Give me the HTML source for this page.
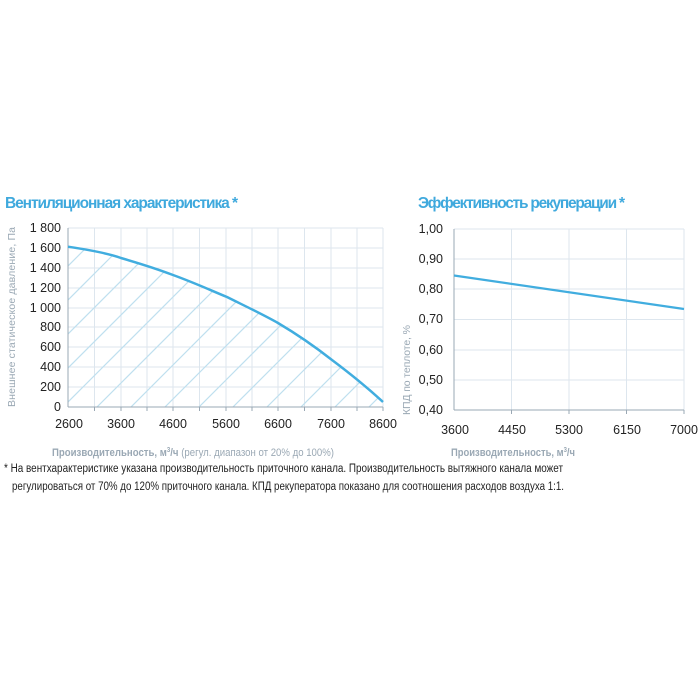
<!DOCTYPE html>
<html><head><meta charset="utf-8"><style>html,body{margin:0;padding:0;background:#fff;width:700px;height:700px;overflow:hidden}svg{display:block}</style></head>
<body>
<svg width="700" height="700" xmlns="http://www.w3.org/2000/svg" font-family="Liberation Sans, sans-serif">
<defs>
<clipPath id="under"><path d="M68,246.7 C90,250 110,254 121,258 C145,265 160,270 173,275 C195,283 210,290 227,297 C245,306 262,314 278,323 C300,336 318,349 332,360 C352,375 370,390 383,402 L383,407 L68,407 Z"/></clipPath>
</defs>
<text x="5" y="208" font-size="15.5" font-weight="bold" fill="#3fa9dd" textLength="233">Вентиляционная характеристика *</text>
<text x="418" y="208" font-size="15.5" font-weight="bold" fill="#3fa9dd" textLength="207">Эффективность рекуперации *</text>
<g stroke="#dde6ee" stroke-width="1">
<line x1="68" y1="228" x2="383" y2="228"/><line x1="68" y1="248" x2="383" y2="248"/><line x1="68" y1="268" x2="383" y2="268"/><line x1="68" y1="288" x2="383" y2="288"/><line x1="68" y1="308" x2="383" y2="308"/><line x1="68" y1="327" x2="383" y2="327"/><line x1="68" y1="347" x2="383" y2="347"/><line x1="68" y1="367" x2="383" y2="367"/><line x1="68" y1="387" x2="383" y2="387"/>
<line x1="94.5" y1="228" x2="94.5" y2="407"/><line x1="121" y1="228" x2="121" y2="407"/><line x1="147" y1="228" x2="147" y2="407"/><line x1="173" y1="228" x2="173" y2="407"/><line x1="199.5" y1="228" x2="199.5" y2="407"/><line x1="226" y1="228" x2="226" y2="407"/><line x1="252" y1="228" x2="252" y2="407"/><line x1="278" y1="228" x2="278" y2="407"/><line x1="304.5" y1="228" x2="304.5" y2="407"/><line x1="331" y1="228" x2="331" y2="407"/><line x1="357" y1="228" x2="357" y2="407"/><line x1="383" y1="228" x2="383" y2="407"/>
</g>
<g clip-path="url(#under)" stroke="#bfe0ef" stroke-width="1.2">
<line x1="0" y1="402" x2="500" y2="-98"/>
<line x1="0" y1="436" x2="500" y2="-64"/><line x1="0" y1="470" x2="500" y2="-30"/><line x1="0" y1="504" x2="500" y2="4"/><line x1="0" y1="538" x2="500" y2="38"/><line x1="0" y1="572" x2="500" y2="72"/><line x1="0" y1="606" x2="500" y2="106"/><line x1="0" y1="640" x2="500" y2="140"/><line x1="0" y1="674" x2="500" y2="174"/><line x1="0" y1="708" x2="500" y2="208"/><line x1="0" y1="742" x2="500" y2="242"/><line x1="0" y1="776" x2="500" y2="276"/><line x1="0" y1="810" x2="500" y2="310"/><line x1="0" y1="844" x2="500" y2="344"/><line x1="0" y1="878" x2="500" y2="378"/><line x1="0" y1="912" x2="500" y2="412"/><line x1="0" y1="368" x2="500" y2="-132"/><line x1="0" y1="334" x2="500" y2="-166"/><line x1="0" y1="300" x2="500" y2="-200"/>
</g>
<g stroke="#9aa8b4" stroke-width="1">
<line x1="68" y1="228" x2="68" y2="407"/><line x1="68" y1="407" x2="383" y2="407"/>
<line x1="94.5" y1="407" x2="94.5" y2="411"/><line x1="121" y1="407" x2="121" y2="411"/><line x1="147" y1="407" x2="147" y2="411"/><line x1="173" y1="407" x2="173" y2="411"/><line x1="199.5" y1="407" x2="199.5" y2="411"/><line x1="226" y1="407" x2="226" y2="411"/><line x1="252" y1="407" x2="252" y2="411"/><line x1="278" y1="407" x2="278" y2="411"/><line x1="304.5" y1="407" x2="304.5" y2="411"/><line x1="331" y1="407" x2="331" y2="411"/><line x1="357" y1="407" x2="357" y2="411"/><line x1="383" y1="407" x2="383" y2="411"/>
</g>
<path d="M68,246.7 C90,250 110,254 121,258 C145,265 160,270 173,275 C195,283 210,290 227,297 C245,306 262,314 278,323 C300,336 318,349 332,360 C352,375 370,390 383,402" fill="none" stroke="#41addf" stroke-width="2.5"/>
<g font-size="12.5" fill="#222" text-anchor="end">
<text x="61" y="232">1 800</text><text x="61" y="252">1 600</text><text x="61" y="272">1 400</text><text x="61" y="292">1 200</text><text x="61" y="312">1 000</text><text x="61" y="331">800</text><text x="61" y="351">600</text><text x="61" y="371">400</text><text x="61" y="391">200</text><text x="61" y="411">0</text>
</g>
<g font-size="12.5" fill="#222" text-anchor="middle">
<text x="69" y="428">2600</text><text x="121" y="428">3600</text><text x="173" y="428">4600</text><text x="226" y="428">5600</text><text x="278" y="428">6600</text><text x="331" y="428">7600</text><text x="383" y="428">8600</text>
</g>
<text transform="translate(15,317) rotate(-90)" font-size="10.5" fill="#9aa8b4" text-anchor="middle" textLength="180">Внешнее статическое давление, Па</text>
<g stroke="#dde6ee" stroke-width="1">
<line x1="454" y1="229" x2="684" y2="229"/><line x1="454" y1="259" x2="684" y2="259"/><line x1="454" y1="289" x2="684" y2="289"/><line x1="454" y1="319.5" x2="684" y2="319.5"/><line x1="454" y1="350" x2="684" y2="350"/><line x1="454" y1="380" x2="684" y2="380"/>
<line x1="511.5" y1="229" x2="511.5" y2="410"/><line x1="569" y1="229" x2="569" y2="410"/><line x1="626.5" y1="229" x2="626.5" y2="410"/><line x1="684" y1="229" x2="684" y2="410"/>
</g>
<g stroke="#9aa8b4" stroke-width="1">
<line x1="454" y1="229" x2="454" y2="410"/><line x1="454" y1="410" x2="684" y2="410"/>
<line x1="511.5" y1="410" x2="511.5" y2="414"/><line x1="569" y1="410" x2="569" y2="414"/><line x1="626.5" y1="410" x2="626.5" y2="414"/><line x1="684" y1="410" x2="684" y2="414"/>
</g>
<line x1="454" y1="275.5" x2="684" y2="309" stroke="#41addf" stroke-width="2.2"/>
<g font-size="12.5" fill="#222" text-anchor="end">
<text x="443" y="233">1,00</text><text x="443" y="263">0,90</text><text x="443" y="293">0,80</text><text x="443" y="323">0,70</text><text x="443" y="354">0,60</text><text x="443" y="384">0,50</text><text x="443" y="414">0,40</text>
</g>
<g font-size="12.5" fill="#222" text-anchor="middle">
<text x="455" y="434">3600</text><text x="512" y="434">4450</text><text x="569" y="434">5300</text><text x="627" y="434">6150</text><text x="684" y="434">7000</text>
</g>
<text transform="translate(410,370) rotate(-90)" font-size="10.5" fill="#9aa8b4" text-anchor="middle" textLength="90">КПД по теплоте, %</text>
<text x="52" y="456" font-size="11" fill="#9aa8b4" textLength="282" lengthAdjust="spacingAndGlyphs"><tspan font-weight="bold">Производительность, м</tspan><tspan font-size="7" dy="-4" font-weight="bold">3</tspan><tspan dy="4" font-weight="bold">/ч</tspan> (регул. диапазон от 20% до 100%)</text>
<text x="451" y="456" font-size="11" fill="#9aa8b4" font-weight="bold" textLength="124" lengthAdjust="spacingAndGlyphs">Производительность, м<tspan font-size="7" dy="-4">3</tspan><tspan dy="4">/ч</tspan></text>
<text x="4" y="472" font-size="11.5" fill="#222" textLength="559" lengthAdjust="spacingAndGlyphs">* На вентхарактеристике указана производительность приточного канала. Производительность вытяжного канала может</text>
<text x="12" y="490" font-size="11.5" fill="#222" textLength="552" lengthAdjust="spacingAndGlyphs">регулироваться от 70% до 120% приточного канала. КПД рекуператора показано для соотношения расходов воздуха 1:1.</text>
</svg>
</body></html>
